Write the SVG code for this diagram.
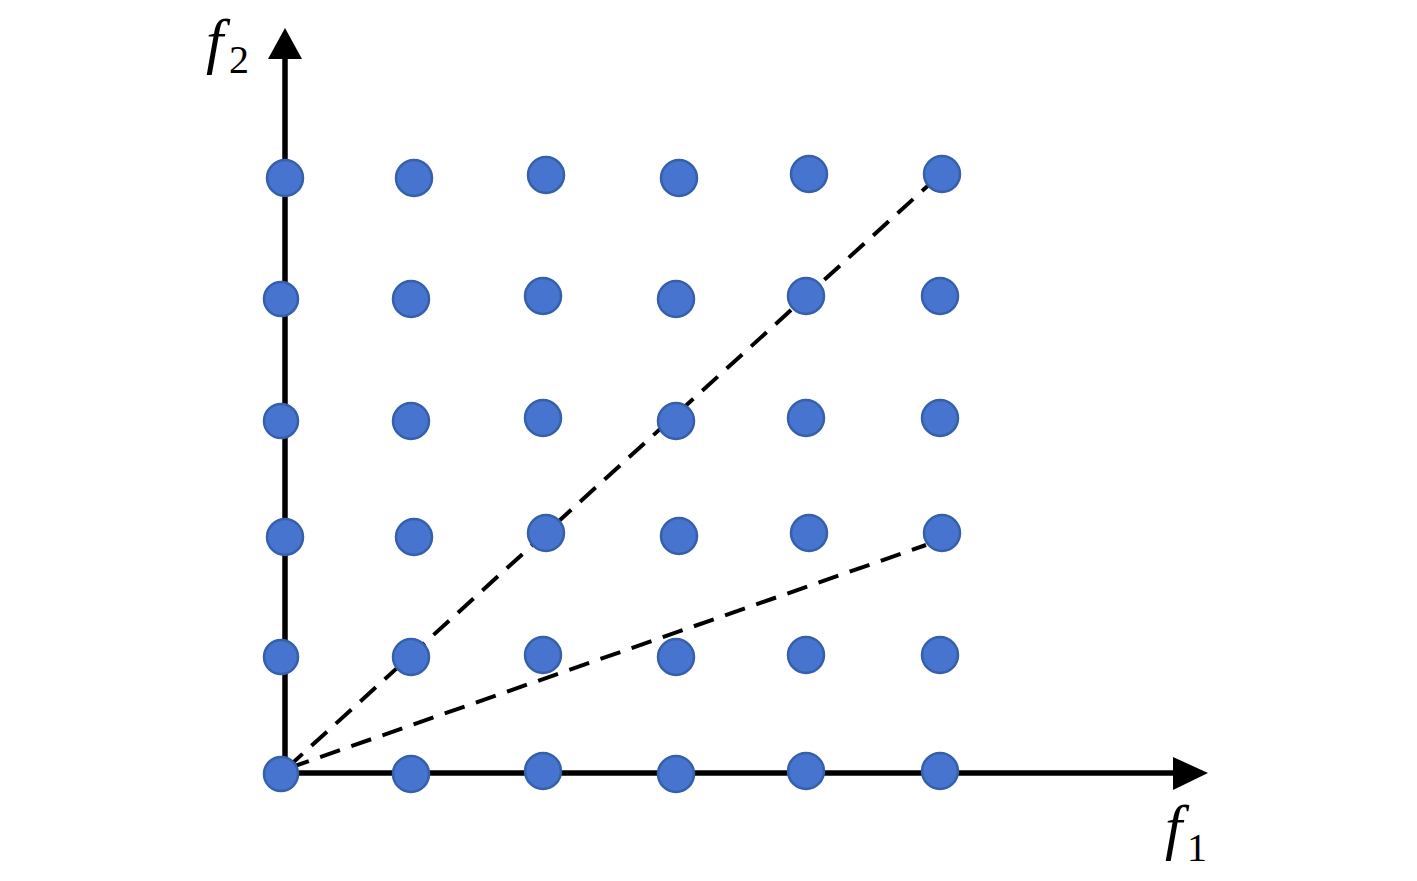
<svg xmlns="http://www.w3.org/2000/svg" width="1417" height="881" viewBox="0 0 1417 881">
<defs>
<style>
.dot{fill:#4674CF;stroke:#3660AA;stroke-width:2.5}
.axis{stroke:#000;stroke-width:5.5;fill:none}
.dash{stroke:#000;stroke-width:4;stroke-dasharray:21 12;fill:none}
.lbl{font-family:"Liberation Serif",serif;fill:#000}
</style>
</defs>
<rect width="1417" height="881" fill="#fff"/>
<g id="connectors">
<line class="axis" x1="285" y1="776" x2="285" y2="56"/>
<polygon points="285,28 268,59 302,59" fill="#000"/>
<line class="axis" x1="281" y1="773" x2="1176" y2="773"/>
<polygon points="1208,773 1173,757 1173,790" fill="#000"/>
<line class="dash" x1="287" y1="768" x2="932" y2="182"/>
<line class="dash" x1="289" y1="768" x2="926" y2="545"/>
</g>
<g id="dots">
<circle class="dot" cx="285" cy="178" r="18"/><circle class="dot" cx="414" cy="178" r="18"/><circle class="dot" cx="546" cy="175" r="18"/><circle class="dot" cx="679" cy="178" r="18"/><circle class="dot" cx="809" cy="174" r="18"/><circle class="dot" cx="942" cy="174" r="18"/>
<circle class="dot" cx="281" cy="299" r="17"/><circle class="dot" cx="411" cy="299" r="18"/><circle class="dot" cx="543" cy="296" r="18"/><circle class="dot" cx="676" cy="299" r="18"/><circle class="dot" cx="806" cy="296" r="18"/><circle class="dot" cx="940" cy="296" r="18"/>
<circle class="dot" cx="281" cy="421" r="17"/><circle class="dot" cx="411" cy="421" r="18"/><circle class="dot" cx="543" cy="418" r="18"/><circle class="dot" cx="676" cy="421" r="18"/><circle class="dot" cx="806" cy="418" r="18"/><circle class="dot" cx="940" cy="418" r="18"/>
<circle class="dot" cx="285" cy="537" r="18"/><circle class="dot" cx="414" cy="537" r="18"/><circle class="dot" cx="546" cy="533" r="18"/><circle class="dot" cx="679" cy="536" r="18"/><circle class="dot" cx="809" cy="533" r="18"/><circle class="dot" cx="942" cy="533" r="18"/>
<circle class="dot" cx="281" cy="657" r="17"/><circle class="dot" cx="411" cy="657" r="18"/><circle class="dot" cx="543" cy="655" r="18"/><circle class="dot" cx="676" cy="657" r="18"/><circle class="dot" cx="806" cy="655" r="18"/><circle class="dot" cx="940" cy="655" r="18"/>
<circle class="dot" cx="281" cy="774" r="17"/><circle class="dot" cx="411" cy="774" r="18"/><circle class="dot" cx="543" cy="771" r="18"/><circle class="dot" cx="676" cy="774" r="18"/><circle class="dot" cx="806" cy="771" r="18"/><circle class="dot" cx="940" cy="771" r="18"/>
</g>
<g id="label-f2"><text class="lbl" x="206" y="62" font-size="62" font-style="italic">f</text><text class="lbl" x="229" y="73" font-size="40">2</text></g>
<g id="label-f1"><text class="lbl" x="1165" y="848" font-size="62" font-style="italic">f</text><text class="lbl" x="1187" y="861" font-size="40">1</text></g>
</svg>
